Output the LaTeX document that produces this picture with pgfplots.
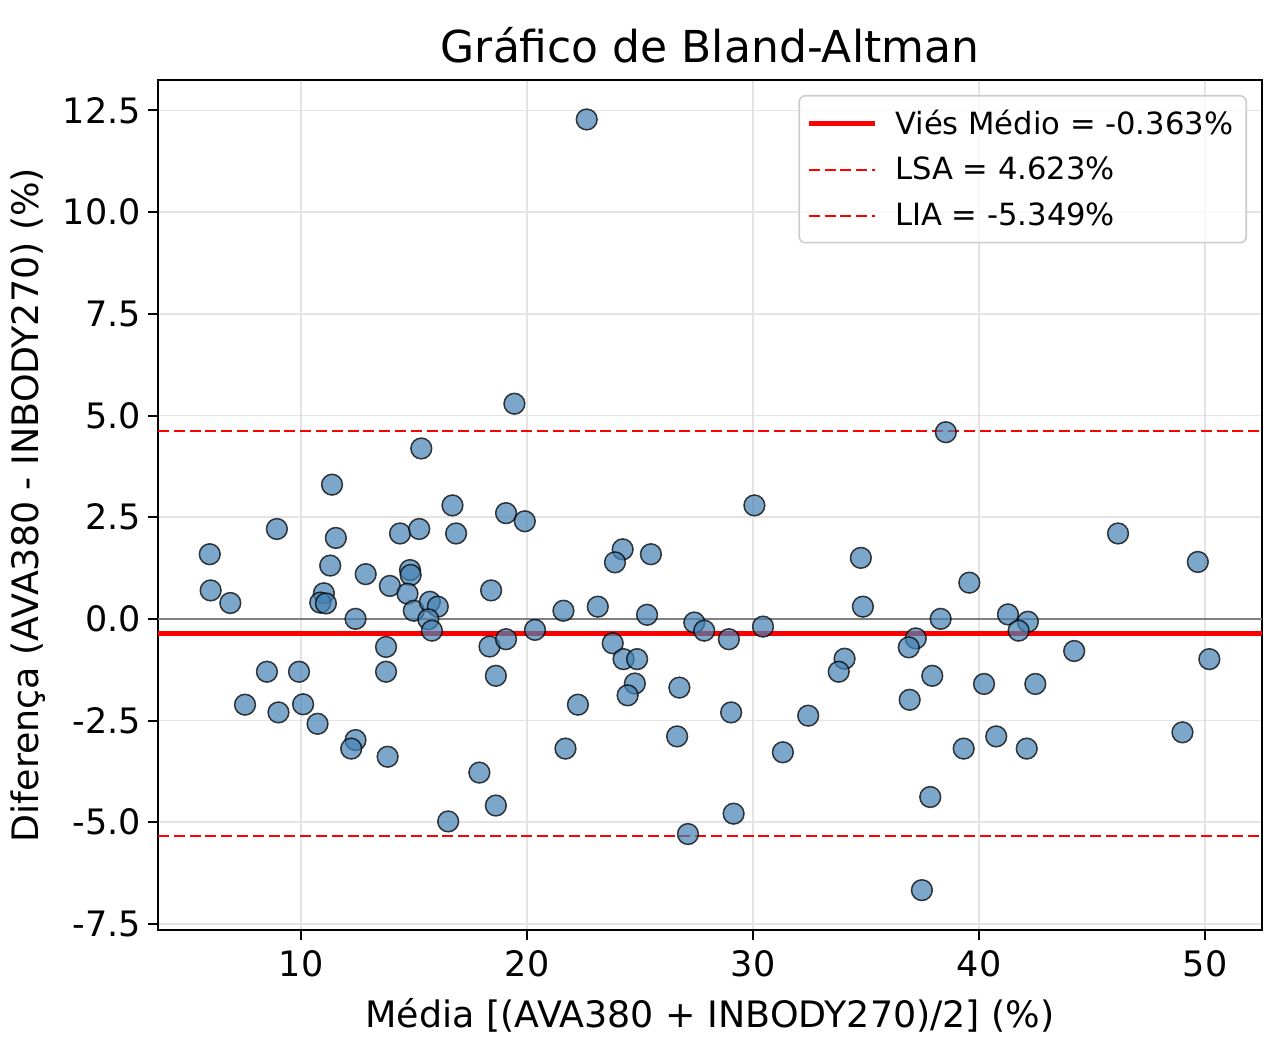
\documentclass[border=0pt]{standalone}
\usepackage{fontspec}
\setmainfont{DejaVu Sans}
\usepackage{pgfplots}
\pgfplotsset{compat=1.18}
\usepackage{pgfplotstable}
\definecolor{steel}{RGB}{70,130,180}
\definecolor{gridc}{RGB}{228,228,228}
\definecolor{legc}{RGB}{204,204,204}
\pgfplotstableread{
x y
22.64 12.28
19.44 5.29
15.32 4.19
11.37 3.30
16.70 2.79
19.07 2.60
19.90 2.40
8.93 2.21
14.38 2.10
15.23 2.21
16.86 2.10
11.54 1.99
5.96 1.59
11.29 1.31
12.86 1.10
14.82 1.20
14.85 1.08
13.93 0.81
6.00 0.70
18.41 0.70
6.87 0.39
11.01 0.63
10.85 0.40
11.10 0.38
14.71 0.62
14.99 0.20
15.70 0.42
16.05 0.30
15.63 -0.01
15.79 -0.29
12.41 0.00
13.76 -0.69
18.34 -0.68
19.07 -0.50
20.35 -0.27
8.49 -1.30
9.91 -1.30
13.76 -1.30
18.62 -1.40
7.52 -2.11
9.00 -2.30
10.09 -2.10
10.73 -2.58
12.41 -2.98
12.22 -3.19
13.83 -3.39
17.89 -3.78
18.62 -4.59
16.51 -4.98
30.06 2.79
24.23 1.71
23.89 1.39
25.48 1.59
34.77 1.50
21.61 0.20
23.13 0.30
25.31 0.10
34.86 0.30
27.40 -0.09
27.84 -0.29
28.93 -0.50
30.44 -0.19
23.79 -0.60
24.27 -0.99
24.87 -0.99
24.77 -1.59
24.45 -1.88
26.74 -1.69
34.05 -0.98
33.79 -1.30
22.25 -2.11
29.03 -2.30
32.44 -2.38
21.70 -3.19
26.64 -2.89
31.32 -3.28
29.14 -4.79
27.12 -5.29
38.53 4.59
46.15 2.10
49.68 1.40
39.57 0.89
38.30 0.00
41.28 0.11
42.16 -0.07
41.75 -0.29
37.20 -0.48
36.89 -0.70
44.21 -0.79
50.19 -0.99
37.93 -1.40
40.22 -1.60
42.49 -1.60
36.93 -1.99
49.00 -2.79
39.32 -3.19
40.76 -2.89
42.11 -3.19
37.84 -4.38
37.47 -6.67
}\datatable
\begin{document}
\begin{tikzpicture}
\path[use as bounding box] (-79pt,-56.5pt) rectangle (558pt,465pt);
\begin{axis}[
  scale only axis,
  width=552pt, height=425pt,
  xmin=3.67, xmax=52.52,
  ymin=-7.65, ymax=13.25,
  xtick={10,20,30,40,50},
  ytick={-7.5,-5,-2.5,0,2.5,5,7.5,10,12.5},
  yticklabel style={/pgf/number format/fixed,/pgf/number format/fixed zerofill,/pgf/number format/precision=1},
  xticklabel style={yshift=-1.5pt},
  /pgf/number format/assume math mode=true,
  tick label style={font=\fontsize{17.5}{21}\selectfont},
  tick align=outside,
  major tick length=5pt,
  tick style={line width=1pt, black},
  xtick pos=bottom, ytick pos=left,
  axis line style={line width=1.2pt},
  grid=major,
  major grid style={gridc, line width=0.75pt},
  title={Gráfico de Bland-Altman},
  title style={font=\fontsize{22}{26}\selectfont, yshift=-1pt},
  xlabel={Média [(AVA380 + INBODY270)/2] (\%)},
  ylabel={Diferença (AVA380 - INBODY270) (\%)},
  label style={font=\fontsize{18.2}{22}\selectfont},
  xlabel style={yshift=-4pt},
  ylabel style={yshift=2pt},
  legend cell align=left,
  legend style={at={(1,1)}, anchor=north east, xshift=-7.5pt, yshift=-7.5pt,
    draw=legc, line width=0.8pt, rounded corners=3pt, fill=white, fill opacity=0.8, text opacity=1,
    font=\fontsize{15.3}{18}\selectfont, row sep=6pt, inner xsep=3.5pt, inner ysep=5pt,
    nodes={inner xsep=3pt},
    /tikz/every odd column/.append style={column sep=6pt}},
  legend image code/.code={\draw[#1] (0pt,0pt) -- (33pt,0pt);},
]
\addplot[only marks, mark=*, mark size=5.2pt,
  mark options={fill=steel, fill opacity=0.7, draw=black, draw opacity=0.75, line width=0.75pt},
  forget plot] table[x=x,y=y] {\datatable};
\addplot[gray, line width=0.7pt, forget plot] coordinates {(3.67,0) (52.52,0)};
\addplot[red, line width=2.5pt] coordinates {(3.67,-0.363) (52.52,-0.363)};
\addlegendentry{Viés Médio = -0.363\%}
\addplot[red, line width=1pt, dash pattern=on 5.5pt off 2.4pt] coordinates {(3.67,4.623) (52.52,4.623)};
\addlegendentry{LSA = 4.623\%}
\addplot[red, line width=1pt, dash pattern=on 5.5pt off 2.4pt] coordinates {(3.67,-5.349) (52.52,-5.349)};
\addlegendentry{LIA = -5.349\%}
\end{axis}
\end{tikzpicture}
\end{document}
